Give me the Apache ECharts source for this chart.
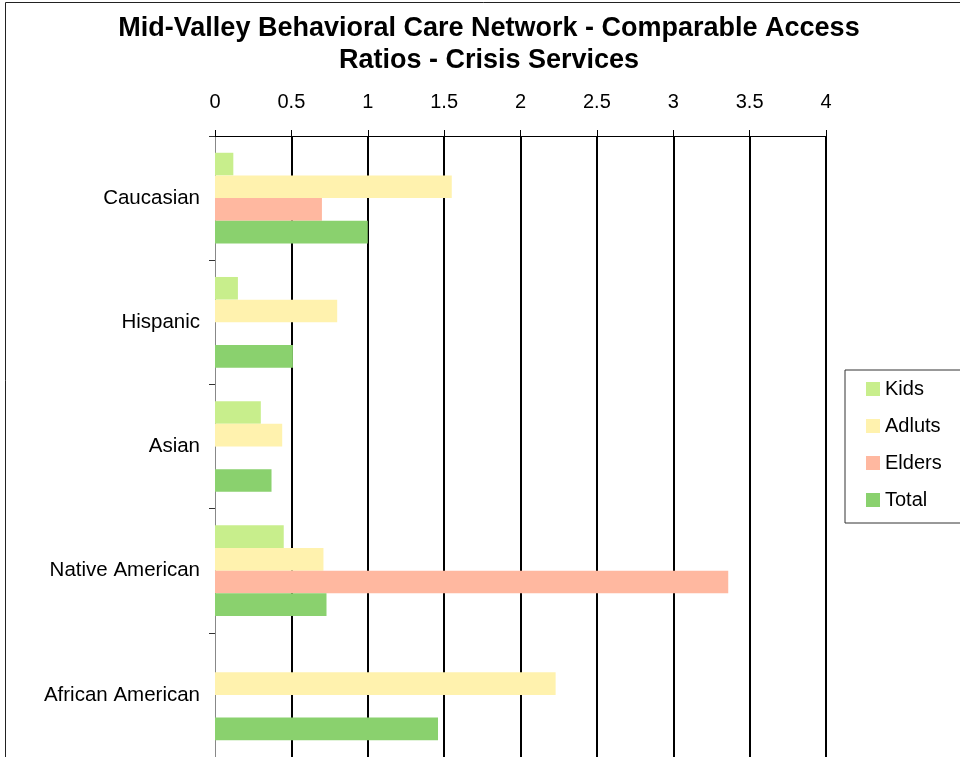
<!DOCTYPE html>
<html>
<head>
<meta charset="utf-8">
<title>Comparable Access Ratios - Crisis Services</title>
<script src="https://cdn.jsdelivr.net/npm/echarts@6/dist/echarts.min.js"></script>
<style>
  html, body { margin: 0; padding: 0; background: #fff; }
  #main { width: 960px; height: 757px; }
</style>
</head>
<body>
<div id="main"></div>
<script>
// categories, top to bottom
var groups = ['Caucasian', 'Hispanic', 'Asian', 'Native American', 'African American'];
// series (legend names kept as in the original)
var seriesNames = ['Kids', 'Adluts', 'Elders', 'Total'];
var kids   = [0.12, 0.15, 0.30, 0.45, null];
var adults = [1.55, 0.80, 0.44, 0.71, 2.23];
var elders = [0.70, null, null, 3.36, null];
var total  = [1.00, 0.51, 0.37, 0.73, 1.46];
var colors = ['#c8ee8c', '#fff2ae', '#ffb8a0', '#8ad16e'];

var font = '"Liberation Sans", Arial, sans-serif';
var myChart = echarts.init(document.getElementById('main'));

var values = [kids, adults, elders, total];
var series = [];
for (var i = 0; i < seriesNames.length; i++) {
    series.push({
        name: seriesNames[i],
        type: 'bar',
        data: values[i],
        barGap: 0,
        barCategoryGap: '27%',
        itemStyle: { color: colors[i] },
        emphasis: { disabled: true }
    });
}

var option = {
    animation: false,
    backgroundColor: '#fff',
    title: {
        text: 'Mid-Valley Behavioral Care Network - Comparable Access\nRatios - Crisis Services',
        left: 489,
        top: 13,
        padding: 0,
        textAlign: 'center',
        textStyle: {
            fontFamily: font,
            fontSize: 27,
            fontWeight: 'bold',
            lineHeight: 32,
            color: '#000'
        }
    },
    legend: {
        orient: 'vertical',
        left: 845,
        top: 370,
        data: seriesNames,
        icon: 'rect',
        itemWidth: 14,
        itemHeight: 14,
        itemGap: 17,
        padding: [9, 60, 13, 21],
        borderColor: '#333',
        borderWidth: 1,
        textStyle: { fontFamily: font, fontSize: 20, color: '#000' }
    },
    grid: {
        left: 215,
        top: 136,
        width: 611,
        height: 622
    },
    xAxis: {
        type: 'value',
        position: 'top',
        min: 0,
        max: 4,
        interval: 0.5,
        axisLine: { show: true, lineStyle: { color: '#000', width: 1 } },
        axisTick: { show: true, length: 6, lineStyle: { color: '#000' } },
        axisLabel: { margin: 24, fontFamily: font, fontSize: 20, color: '#000' },
        splitLine: { show: true, showMinLine: false, lineStyle: { color: '#000', width: 2 } }
    },
    yAxis: {
        type: 'category',
        data: groups,
        inverse: true,
        axisLine: { show: true, lineStyle: { color: '#888', width: 1 } },
        axisTick: { show: true, length: 6, lineStyle: { color: '#333' } },
        axisLabel: { margin: 15, fontFamily: font, fontSize: 20.5, color: '#000' }
    },
    graphic: [{
        type: 'rect',
        shape: { x: 5.5, y: 2.5, width: 1200, height: 1200 },
        style: { fill: null, stroke: '#222', lineWidth: 1 },
        silent: true
    }],
    series: series
};

myChart.setOption(option);
</script>
</body>
</html>
